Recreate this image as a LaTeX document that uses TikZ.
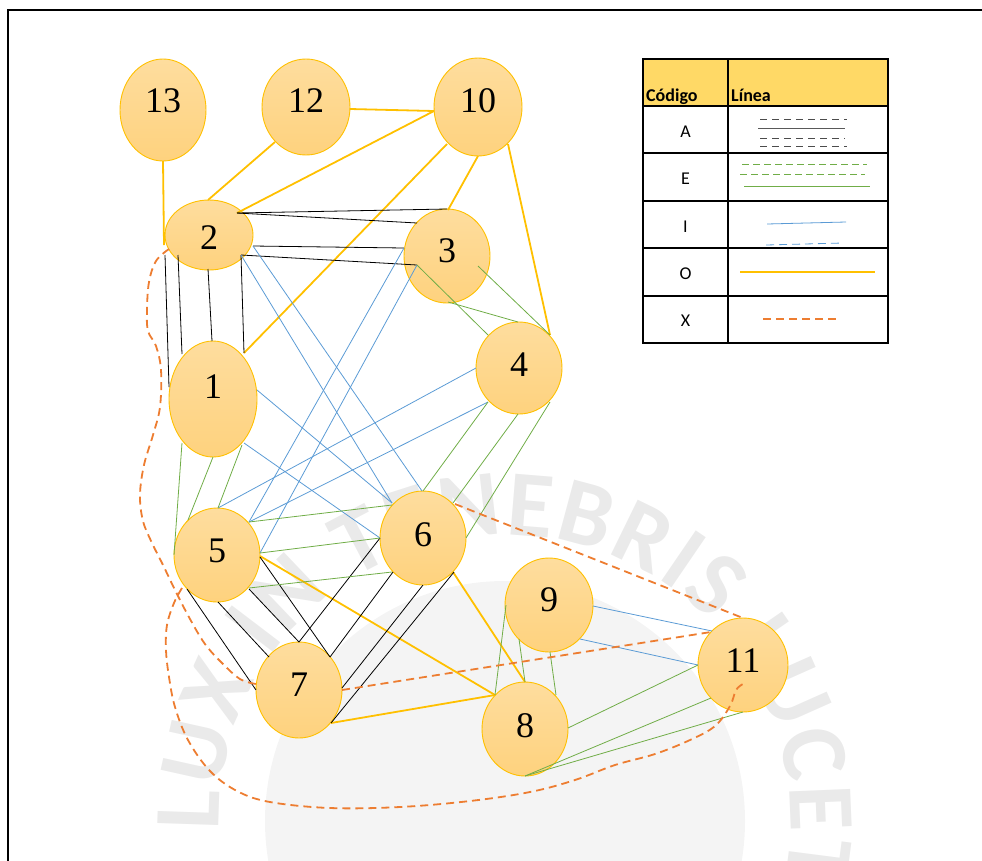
\documentclass[tikz,border=0pt]{standalone}
\usepackage{fontspec}
\setmainfont{Liberation Serif}
\newfontfamily\calfont{Carlito}
\usetikzlibrary{shapes.geometric,decorations.text}
\definecolor{bubtop}{HTML}{FEDD9E}
\definecolor{bubbot}{HTML}{FED27E}
\definecolor{bubline}{HTML}{FFC000}
\definecolor{relO}{HTML}{FFC000}
\definecolor{relE}{HTML}{70AD47}
\definecolor{relI}{HTML}{5B9BD5}
\definecolor{relX}{HTML}{ED7D31}
\definecolor{headfill}{HTML}{FFD966}
\definecolor{sealink}{HTML}{EAEAEA}
\definecolor{sealdisc}{HTML}{F4F4F4}
% raise a bubble number without changing its box
\newcommand\liftnum[2]{\raisebox{#1}[24pt][0pt]{#2}}
% straight connector between two points given relative to node centres
\newcommand\conn[5]{\draw[#1] ([shift={#3}]#2.center) -- ([shift={#5}]#4.center);}
\begin{document}
\begin{tikzpicture}[x=1pt,y=-1pt,
  bub/.style={ellipse, draw=bubline, line width=0.9pt, top color=bubtop,
    bottom color=bubbot, inner sep=0pt, font=\fontsize{36}{36}\selectfont},
  lnA/.style={black, line width=0.8pt},
  lnE/.style={relE, line width=0.8pt},
  lnI/.style={relI, line width=0.8pt},
  lnO/.style={relO, line width=1.8pt},
  lnX/.style={relX, line width=1.8pt, dash pattern=on 8pt off 5pt},
  hdr/.style={font=\calfont\bfseries\fontsize{18}{18}\selectfont, inner sep=0pt},
  cell/.style={font=\calfont\fontsize{18}{18}\selectfont, inner sep=0pt},
  tab/.style={line width=1.3pt, black},
]
\useasboundingbox (0,0) rectangle (982,860);

% faint seal in the background
\coordinate (sealc) at (505,821);
\fill[sealdisc] (sealc) circle[radius=240];
\path[decorate, decoration={text along path, text align=fit to path,
    text={|\calfont\bfseries\fontsize{94}{94}\selectfont\color{sealink}|LUX IN TENEBRIS LUCET}}]
  ([shift={(178:286)}]sealc) arc[start angle=178, end angle=372, radius=286];

% page frame
\draw[line width=1.6pt] (8,870) -- (8,10) -- (990,10);

% bubbles
\node[bub, minimum width=86pt, minimum height=102pt] (n13) at (163,110) {\liftnum{10pt}{13}};
\node[bub, minimum width=88pt, minimum height=96pt]  (n12) at (306,107) {\liftnum{7pt}{12}};
\node[bub, minimum width=88pt, minimum height=98pt]  (n10) at (478,107) {\liftnum{7pt}{10}};
\node[bub, minimum width=88pt, minimum height=70pt]  (n2)  at (209,235) {\liftnum{-2pt}{2}};
\node[bub, minimum width=86pt, minimum height=94pt]  (n3)  at (447,256) {\liftnum{6pt}{3}};
\node[bub, minimum width=88pt, minimum height=116pt] (n1)  at (213,399) {\liftnum{13pt}{1}};
\node[bub, minimum width=86pt, minimum height=92pt]  (n4)  at (519,368) {\liftnum{4pt}{4}};
\node[bub, minimum width=86pt, minimum height=94pt]  (n5)  at (217,555) {\liftnum{5pt}{5}};
\node[bub, minimum width=86pt, minimum height=94pt]  (n6)  at (423,538) {\liftnum{4pt}{6}};
\node[bub, minimum width=86pt, minimum height=96pt]  (n7)  at (299,690) {\liftnum{6pt}{7}};
\node[bub, minimum width=88pt, minimum height=94pt]  (n9)  at (549,605) {\liftnum{6pt}{9}};
\node[bub, minimum width=86pt, minimum height=94pt]  (n8)  at (525,729) {\liftnum{4pt}{8}};
\node[bub, minimum width=90pt, minimum height=94pt]  (n11) at (743,665) {\liftnum{5pt}{11}};

% O relations
\conn{lnO}{n13}{(0,51)}{n2}{(-45,10)}
\conn{lnO}{n12}{(-31,35)}{n2}{(-1,-35)}
\conn{lnO}{n12}{(44,2)}{n10}{(-44,4)}
\conn{lnO}{n10}{(-44,4)}{n2}{(28,-22)}
\conn{lnO}{n10}{(-31,37)}{n1}{(31,-46)}
\conn{lnO}{n10}{(0,49)}{n3}{(1,-46)}
\conn{lnO}{n10}{(30,37)}{n4}{(31,-33)}
\conn{lnO}{n5}{(43,1)}{n8}{(-30,-34)}
\conn{lnO}{n6}{(30,34)}{n8}{(0,-47)}
\conn{lnO}{n7}{(32,33)}{n8}{(-30,-34)}

% A relations
\conn{lnA}{n2}{(28,-22)}{n3}{(0,-47)}
\conn{lnA}{n2}{(28,-22)}{n3}{(-30,-33)}
\conn{lnA}{n2}{(44,11)}{n3}{(-43,-8)}
\conn{lnA}{n2}{(32,20)}{n3}{(-30,9)}
\conn{lnA}{n2}{(-44,20)}{n1}{(-44,-12)}
\conn{lnA}{n2}{(-31,20)}{n1}{(-31,-45)}
\conn{lnA}{n2}{(-1,34)}{n1}{(-1,-58)}
\conn{lnA}{n2}{(32,20)}{n1}{(31,-46)}
\conn{lnA}{n5}{(-30,34)}{n7}{(-43,0)}
\conn{lnA}{n5}{(1,47)}{n7}{(-30,-33)}
\conn{lnA}{n5}{(32,34)}{n7}{(0,-48)}
\conn{lnA}{n5}{(43,2)}{n7}{(31,-33)}
\conn{lnA}{n6}{(-43,0)}{n7}{(0,-48)}
\conn{lnA}{n6}{(-30,34)}{n7}{(31,-33)}
\conn{lnA}{n6}{(0,47)}{n7}{(43,-2)}
\conn{lnA}{n6}{(31,34)}{n7}{(32,33)}

% I relations
\conn{lnI}{n2}{(44,11)}{n6}{(-1,-47)}
\conn{lnI}{n2}{(32,20)}{n6}{(-31,-35)}
\conn{lnI}{n3}{(-43,-8)}{n5}{(32,-33)}
\conn{lnI}{n3}{(-30,9)}{n5}{(43,-2)}
\conn{lnI}{n4}{(-43,0)}{n5}{(1,-47)}
\conn{lnI}{n4}{(-31,34)}{n5}{(32,-33)}
\conn{lnI}{n1}{(44,-9)}{n6}{(-31,-35)}
\conn{lnI}{n1}{(31,44)}{n6}{(-43,0)}
\conn{lnI}{n9}{(44,1)}{n11}{(-31,-34)}
\conn{lnI}{n9}{(31,34)}{n11}{(-45,0)}

% E relations
\conn{lnE}{n3}{(-30,9)}{n4}{(-31,-33)}
\conn{lnE}{n3}{(1,46)}{n4}{(-1,-46)}
\conn{lnE}{n3}{(31,10)}{n4}{(31,-33)}
\conn{lnE}{n4}{(-31,34)}{n6}{(0,-47)}
\conn{lnE}{n4}{(-1,46)}{n6}{(30,-35)}
\conn{lnE}{n4}{(31,34)}{n6}{(43,0)}
\conn{lnE}{n1}{(-31,44)}{n5}{(-43,0)}
\conn{lnE}{n1}{(0,58)}{n5}{(-29,-35)}
\conn{lnE}{n1}{(29,46)}{n5}{(1,-47)}
\conn{lnE}{n5}{(32,-33)}{n6}{(-31,-33)}
\conn{lnE}{n5}{(43,-2)}{n6}{(-43,0)}
\conn{lnE}{n5}{(32,33)}{n6}{(-31,34)}
\conn{lnE}{n9}{(-43,0)}{n8}{(-30,-34)}
\conn{lnE}{n9}{(-30,34)}{n8}{(0,-47)}
\conn{lnE}{n9}{(1,47)}{n8}{(31,-34)}
\conn{lnE}{n8}{(43,-1)}{n11}{(-45,0)}
\conn{lnE}{n8}{(0,47)}{n11}{(-32,33)}
\conn{lnE}{n8}{(0,47)}{n11}{(0,47)}

% X relations
\conn{lnX}{n6}{(32,-34)}{n11}{(0,-47)}
\conn{lnX}{n7}{(43,0)}{n11}{(-32,-33)}
\draw[lnX] plot[smooth, tension=0.6] coordinates {
  ([shift={(-40,14)}]n2.center) (156,261) (149,282) (147,310) (148,331)
  (156,346) (161,370) (160,407) (153,435) (144,465) (140,495) (143,521)
  (152,543) (163,565) (176,592) (190,619) (205,644) (222,663) (240,679)
  ([shift={(-43,-6)}]n7.center)};
\draw[lnX] plot[smooth, tension=0.6] coordinates {
  ([shift={(-35,33)}]n5.center) (174,603) (167,625) (166,650) (169,677)
  (175,707) (188,740) (210,771) (237,791) (270,802) (330,808) (400,807)
  (470,801) (530,792) (575,780) (615,765) (655,754) (690,740) (715,726)
  (730,706) (736,690) ([shift={(0,19)}]n11.center)};

% legend table
\fill[headfill] (643,59) rectangle (888,106);
\draw[tab] (643,59) rectangle (888,343);
\foreach \yy in {106,153,201,248,296} \draw[tab] (643,\yy) -- (888,\yy);
\draw[tab] (728,59) -- (728,343);
\node[hdr, anchor=base west] (hcod) at (646,101) {Código};
\node[hdr, anchor=base west] (hlin) at (731,101) {Línea};
\node[cell] (ca) at (685.5,132) {A};
\node[cell] (ce) at (685.5,179) {E};
\node[cell] (ci) at (685.5,227) {I};
\node[cell] (co) at (685.5,274) {O};
\node[cell] (cx) at (685.5,321) {X};

% legend samples
\draw[black!70, line width=0.8pt, dash pattern=on 7pt off 5pt] (760,119) -- (847,119);
\draw[black!65, line width=0.8pt] (758,128) -- (845,128);
\draw[black!70, line width=0.8pt, dash pattern=on 7pt off 5pt] (760,138) -- (845,138);
\draw[black!70, line width=0.8pt, dash pattern=on 7pt off 5pt] (760,146) -- (847,146);
\draw[relE, line width=0.8pt, dash pattern=on 7pt off 4pt] (742,164) -- (867,164);
\draw[relE, line width=0.8pt, dash pattern=on 7pt off 4pt] (740,174) -- (865,174);
\draw[relE, line width=0.8pt] (744,186) -- (870,186);
\draw[relI, line width=0.8pt] (767,224) -- (846,222);
\draw[relI, line width=0.8pt, dash pattern=on 8pt off 5pt] (766,245) -- (843,243);
\draw[relO, line width=1.8pt] (740,272) -- (875,272);
\draw[relX, line width=1.8pt, dash pattern=on 8pt off 5pt] (763,319) -- (840,319);
\end{tikzpicture}
\end{document}
